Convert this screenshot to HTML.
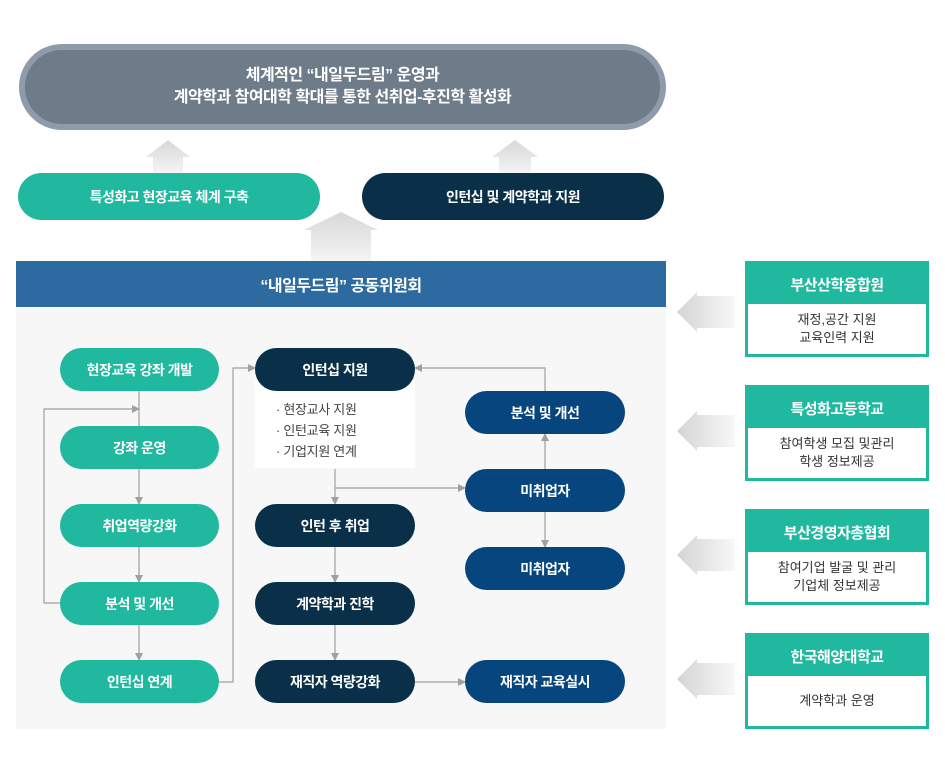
<!DOCTYPE html>
<html><head><meta charset="utf-8"><style>
*{margin:0;padding:0;box-sizing:border-box}
body{width:945px;height:771px;background:#fff;position:relative;font-family:"Liberation Sans","Noto Sans CJK KR",sans-serif;overflow:hidden}
.a{position:absolute;display:flex;align-items:center;justify-content:center;text-align:center;color:#fff}
.p{border-radius:22px;font-size:14px;font-weight:bold;letter-spacing:-0.5px}
.g{background:#20b89e}.d{background:#0a3049}.b{background:#07457f}
.rb{position:absolute;left:745px;width:184px;height:96px;border:3px solid #20b89e;background:#fff}
.rb .h{height:40px;background:#20b89e;color:#fff;font-weight:bold;font-size:15px;display:flex;align-items:center;justify-content:center;letter-spacing:-0.5px}
.rb .t{height:50px;display:flex;align-items:center;justify-content:center;text-align:center;font-size:13px;color:#333;line-height:18px}
</style></head><body>
<div class="a" style="left:19px;top:44px;width:647px;height:86px;border-radius:43px;background:#6e7b89;border:6px solid #8e9bab;font-size:16px;font-weight:bold;line-height:22px;letter-spacing:-0.5px">체계적인 “내일두드림” 운영과<br>계약학과 참여대학 확대를 통한 선취업-후진학 활성화</div>
<svg style="position:absolute;left:0;top:0" width="945" height="771">
<defs><linearGradient id="ug" x1="0" y1="0" x2="0" y2="1"><stop offset="0" stop-color="#d8d8d8"/><stop offset="1" stop-color="#f4f4f4"/></linearGradient>
<linearGradient id="lg" x1="0" y1="0" x2="1" y2="0"><stop offset="0" stop-color="#d4d4d4"/><stop offset="1" stop-color="#f8f8f8"/></linearGradient>
<marker id="m" markerWidth="8" markerHeight="8" refX="7" refY="4" orient="auto" markerUnits="userSpaceOnUse"><path d="M0,0 L8,4 L0,8z" fill="#a0a0a0"/></marker></defs>
<path d="M146,157 L168,140 L190,157 L183,157 L183,173 L153,173 L153,157z" fill="url(#ug)"/>
<path d="M492,157 L515,140 L538,157 L531,157 L531,173 L499,173 L499,157z" fill="url(#ug)"/>
<path d="M304,230 L341,212 L378,230 L371,230 L371,261 L311,261 L311,230z" fill="url(#ug)"/>
<g fill="url(#lg)">
<path d="M677,312 L697,292 L697,296 L735,296 L735,328 L697,328 L697,332z"/>
<path d="M677,431 L697,411 L697,415 L735,415 L735,447 L697,447 L697,451z"/>
<path d="M677,555 L697,535 L697,539 L735,539 L735,571 L697,571 L697,575z"/>
<path d="M677,679 L697,659 L697,663 L735,663 L735,695 L697,695 L697,699z"/>
</g>
<rect x="16" y="307" width="650" height="422" fill="#f7f7f7"/>
<rect x="255" y="380" width="160" height="88" fill="#fff"/>
<g stroke="#a0a0a0" stroke-width="1.2" fill="none">
<line x1="139" y1="391" x2="139" y2="426"/>
<polyline points="60,603 44,603 44,409 139,409" marker-end="url(#m)"/>
<line x1="139" y1="469" x2="139" y2="504" marker-end="url(#m)"/>
<line x1="139" y1="547" x2="139" y2="582" marker-end="url(#m)"/>
<line x1="139" y1="625" x2="139" y2="660" marker-end="url(#m)"/>
<polyline points="219,682 233,682 233,368 255,368" marker-end="url(#m)"/>
<line x1="335" y1="469" x2="335" y2="504" marker-end="url(#m)"/>
<polyline points="335,488 465,488" marker-end="url(#m)"/>
<line x1="335" y1="547" x2="335" y2="582" marker-end="url(#m)"/>
<line x1="335" y1="625" x2="335" y2="660" marker-end="url(#m)"/>
<line x1="415" y1="682" x2="465" y2="682" marker-end="url(#m)"/>
<line x1="545" y1="469" x2="545" y2="434" marker-end="url(#m)"/>
<line x1="545" y1="512" x2="545" y2="547" marker-end="url(#m)"/>
<polyline points="545,391 545,368 415,368" marker-end="url(#m)"/>
</g>
</svg>
<div class="a p g" style="left:18px;top:173px;width:302px;height:47px;border-radius:24px">특성화고 현장교육 체계 구축</div>
<div class="a p d" style="left:362px;top:173px;width:302px;height:47px;border-radius:24px">인턴십 및 계약학과 지원</div>
<div class="a" style="left:16px;top:261px;width:650px;height:46px;background:#2d6aa0;font-size:16px;font-weight:bold;letter-spacing:-0.5px">“내일두드림” 공동위원회</div>
<div class="a p g" style="left:60px;top:348px;width:159px;height:43px">현장교육 강좌 개발</div>
<div class="a p g" style="left:60px;top:426px;width:159px;height:43px">강좌 운영</div>
<div class="a p g" style="left:60px;top:504px;width:159px;height:43px">취업역량강화</div>
<div class="a p g" style="left:60px;top:582px;width:159px;height:43px">분석 및 개선</div>
<div class="a p g" style="left:60px;top:660px;width:159px;height:43px">인턴십 연계</div>
<div class="a p d" style="left:255px;top:348px;width:160px;height:43px">인턴십 지원</div>
<div style="position:absolute;left:276px;top:399px;font-size:13px;color:#444;line-height:21px;letter-spacing:-0.3px">· 현장교사 지원<br>· 인턴교육 지원<br>· 기업지원 연계</div>
<div class="a p d" style="left:255px;top:504px;width:160px;height:43px">인턴 후 취업</div>
<div class="a p d" style="left:255px;top:582px;width:160px;height:43px">계약학과 진학</div>
<div class="a p d" style="left:255px;top:660px;width:160px;height:43px">재직자 역량강화</div>
<div class="a p b" style="left:465px;top:391px;width:160px;height:43px">분석 및 개선</div>
<div class="a p b" style="left:465px;top:469px;width:160px;height:43px">미취업자</div>
<div class="a p b" style="left:465px;top:547px;width:160px;height:43px">미취업자</div>
<div class="a p b" style="left:465px;top:660px;width:160px;height:43px">재직자 교육실시</div>
<div class="rb" style="top:261px"><div class="h">부산산학융합원</div><div class="t">재정,공간 지원<br>교육인력 지원</div></div>
<div class="rb" style="top:385px"><div class="h">특성화고등학교</div><div class="t">참여학생 모집 및관리<br>학생 정보제공</div></div>
<div class="rb" style="top:509px"><div class="h">부산경영자총협회</div><div class="t">참여기업 발굴 및 관리<br>기업체 정보제공</div></div>
<div class="rb" style="top:633px"><div class="h">한국해양대학교</div><div class="t">계약학과 운영</div></div>
</body></html>
